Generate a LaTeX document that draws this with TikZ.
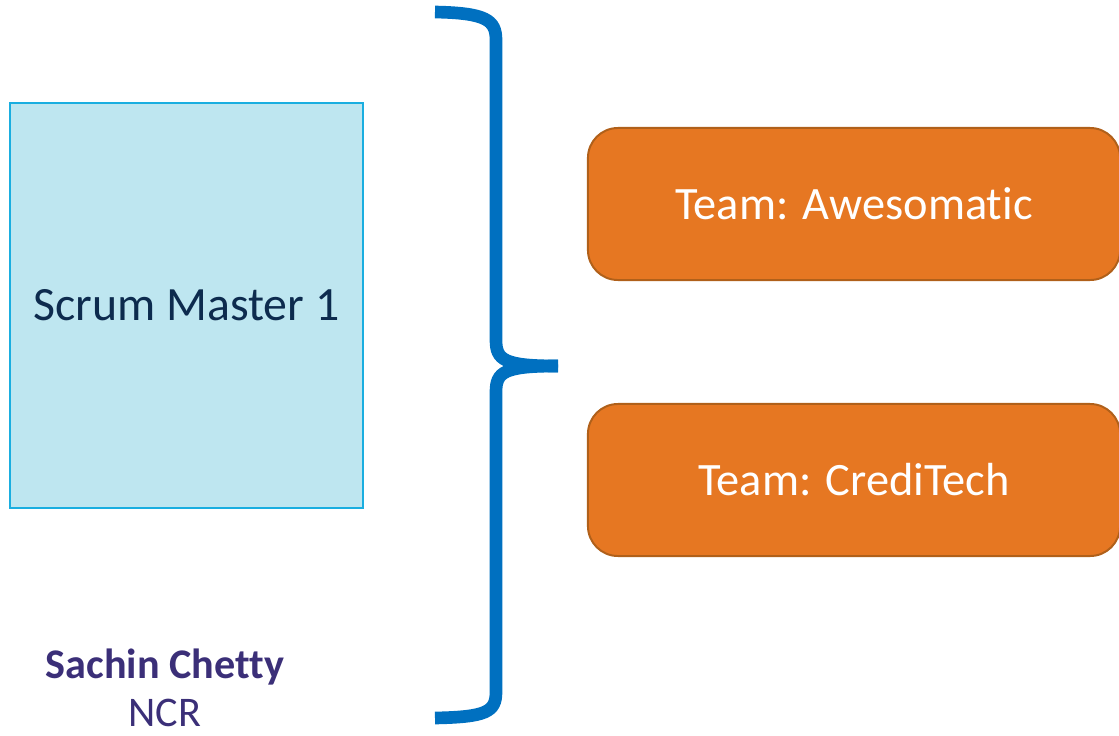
\documentclass[tikz,border=0pt]{standalone}
\usepackage{fontspec}
\setmainfont{Carlito}[Ligatures={NoCommon,NoRare,NoContextual}]
\usepackage{xcolor}
\definecolor{smfill}{HTML}{BEE6F0}
\definecolor{smdraw}{HTML}{1AAEE0}
\definecolor{smtext}{HTML}{0D2B4E}
\definecolor{teamfill}{HTML}{E67722}
\definecolor{teamdraw}{HTML}{B0601A}
\definecolor{bracecol}{HTML}{0070C0}
\definecolor{nametext}{HTML}{3B2F78}
\tikzset{
    master/.style={draw=smdraw, fill=smfill, line width=1.2pt, minimum width=8.825cm, minimum height=10.125cm, inner sep=0pt, text=smtext, font=\fontsize{34}{38}\selectfont},
    team/.style={draw=teamdraw, fill=teamfill, line width=1.4pt, rounded corners=0.75cm, minimum width=13.3cm, minimum height=3.8cm, inner sep=0pt, text=white, font=\fontsize{33}{38}\selectfont},
    bracket/.style={draw=bracecol, line width=9pt, line cap=butt}
}

\begin{document}
\begin{tikzpicture}[x=0.025cm, y=-0.025cm]
            \useasboundingbox (0,0) rectangle (1119,736);

            \node[master] (sm) at (186.5,305.5) {Scrum Master 1};

            \node[team] (awesome) at (854,204) {Team: Awesomat\kern0pt ic};
            \node[team] (credi) at (854,480) {Team: CrediTech};

            % the brace
            \coordinate (tip) at (558,366);
            \draw[bracket] (435,12) .. controls (486,13) and (496,20) .. (496,40) -- (496,340) .. controls (496,360) and (504,366) .. (tip);
            \draw[bracket] (tip) .. controls (504,366) and (496,372) .. (496,392) -- (496,692) .. controls (496,712) and (486,717) .. (435,718);

            \node[anchor=base, text=nametext, font=\fontsize{30}{34}\selectfont\bfseries] (name) at (165,678) {Sachin Chet\kern0pt ty};
            \node[anchor=base, text=nametext, font=\fontsize{30}{34}\selectfont, inner sep=0pt] (org) at (165,726) {NCR};
\end{tikzpicture}
\end{document}
